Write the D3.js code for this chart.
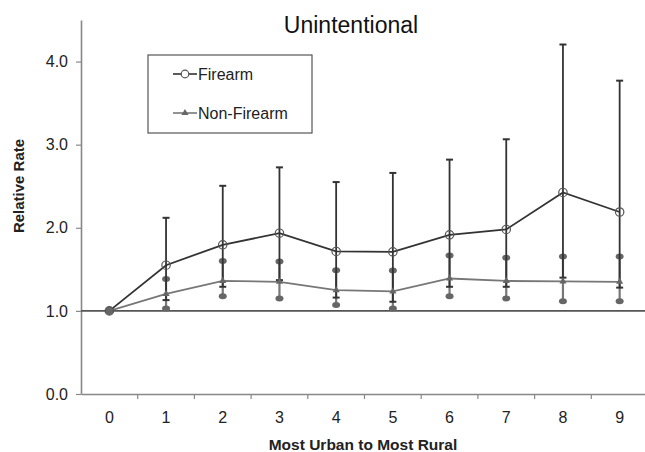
<!DOCTYPE html>
<html>
<head>
<meta charset="utf-8">
<script src="https://cdn.jsdelivr.net/npm/d3@7"></script>
<style>
  body { margin: 0; background: #fff; }
  text { font-family: "Liberation Sans", Arial, sans-serif; }
</style>
</head>
<body>
<script>
// chart data
const categories = ['0', '1', '2', '3', '4', '5', '6', '7', '8', '9'];
const firearm = [1.0, 1.55, 1.795, 1.935, 1.715, 1.71, 1.915, 1.98, 2.425, 2.19];
const firearmLow = [null, 1.13, 1.29, 1.37, 1.16, 1.11, 1.29, 1.29, 1.40, 1.28];
const firearmHigh = [null, 2.12, 2.505, 2.727, 2.55, 2.66, 2.82, 3.065, 4.205, 3.77];
const nonFirearm = [1.0, 1.205, 1.36, 1.35, 1.25, 1.235, 1.39, 1.36, 1.355, 1.35];
const nonFirearmLow = [null, 1.03, 1.175, 1.15, 1.07, 1.03, 1.175, 1.15, 1.115, 1.115];
const nonFirearmHigh = [null, 1.385, 1.60, 1.595, 1.49, 1.485, 1.665, 1.64, 1.655, 1.655];
const yTicks = [0, 1, 2, 3, 4];
const refValue = 1.0;

const W = 645;
const H = 452;
const margin = {
  top: 20,
  bottom: 58,
  left: 81,
  right: -3,
};
const width = W - margin.left - margin.right;
const height = H - margin.top - margin.bottom;

const svg = d3.select('body').append('svg')
  .attr('width', W)
  .attr('height', H);

// title
svg.append('text')
  .attr('x', 351)
  .attr('y', 33)
  .attr('text-anchor', 'middle')
  .style('font-size', '23px')
  .style('fill', '#111')
  .text('Unintentional');

const g = svg.append('g')
  .attr('transform', `translate(${margin.left},${margin.top})`);

// band scale for the rurality levels, linear for the relative rate
const xscale = d3.scaleBand().domain(categories).range([0, width]);
const yscale = d3.scaleLinear().domain([0, 4.5]).range([height, 0]);
const cx = i => xscale(categories[i]) + xscale.bandwidth() / 2;

// y axis
const yAxis = d3.axisLeft(yscale)
  .tickValues(yTicks)
  .tickFormat(d3.format('.1f'))
  .tickSize(5)
  .tickSizeOuter(0)
  .tickPadding(8);
const gy = g.append('g').call(yAxis);
gy.select('.domain').attr('stroke', '#888').attr('stroke-width', 1.6);
gy.selectAll('.tick line').attr('stroke', '#888').attr('stroke-width', 1.2);
gy.selectAll('.tick text')
  .style('font-size', '16px')
  .style('font-family', '"Liberation Sans", Arial, sans-serif')
  .style('fill', '#222');

// x axis, labels centered in bands, tick marks on band boundaries
const xAxis = d3.axisBottom(xscale).tickSize(0).tickSizeOuter(0).tickPadding(18);
const gx = g.append('g').attr('transform', `translate(0,${height})`).call(xAxis);
gx.select('.domain').attr('stroke', '#888').attr('stroke-width', 1.6);
gx.selectAll('.tick text')
  .style('font-size', '16px')
  .style('font-family', '"Liberation Sans", Arial, sans-serif')
  .style('fill', '#222');
gx.selectAll('.bound')
  .data(d3.range(1, categories.length))
  .enter().append('line')
  .attr('x1', i => i * xscale.step())
  .attr('x2', i => i * xscale.step())
  .attr('y1', 0)
  .attr('y2', 5)
  .attr('stroke', '#888')
  .attr('stroke-width', 1.2);

// axis titles
svg.append('text')
  .attr('transform', `translate(24,186) rotate(-90)`)
  .attr('text-anchor', 'middle')
  .style('font-size', '15px')
  .style('font-weight', 'bold')
  .style('fill', '#222')
  .text('Relative Rate');
svg.append('text')
  .attr('x', 363)
  .attr('y', 450)
  .attr('text-anchor', 'middle')
  .style('font-size', '15.5px')
  .style('font-weight', 'bold')
  .style('fill', '#222')
  .text('Most Urban to Most Rural');

// reference line at 1.0
g.append('line')
  .attr('x1', 0)
  .attr('x2', width)
  .attr('y1', yscale(refValue))
  .attr('y2', yscale(refValue))
  .attr('stroke', '#555')
  .attr('stroke-width', 1.6);

const idx = d3.range(1, categories.length);

// non-firearm error bars (grey with dot ends)
g.selectAll('.nfbar').data(idx).enter().append('line')
  .attr('x1', cx).attr('x2', cx)
  .attr('y1', i => yscale(nonFirearmLow[i]))
  .attr('y2', i => yscale(nonFirearmHigh[i]))
  .attr('stroke', '#777')
  .attr('stroke-width', 2.2);
[nonFirearmLow, nonFirearmHigh].forEach((arr) => {
  g.selectAll(null).data(idx).enter().append('ellipse')
    .attr('cx', cx)
    .attr('cy', i => yscale(arr[i]))
    .attr('rx', 4)
    .attr('ry', 3)
    .attr('fill', '#666');
});

// firearm error bars (dark with caps)
g.selectAll('.fbar').data(idx).enter().append('line')
  .attr('x1', cx).attr('x2', cx)
  .attr('y1', i => yscale(firearmLow[i]))
  .attr('y2', i => yscale(firearmHigh[i]))
  .attr('stroke', '#333')
  .attr('stroke-width', 1.8);
[firearmLow, firearmHigh].forEach((arr) => {
  g.selectAll(null).data(idx).enter().append('line')
    .attr('x1', i => cx(i) - 3.5)
    .attr('x2', i => cx(i) + 3.5)
    .attr('y1', i => yscale(arr[i]))
    .attr('y2', i => yscale(arr[i]))
    .attr('stroke', '#333')
    .attr('stroke-width', 2);
});

// series lines
const line = d3.line().x((d, i) => cx(i)).y(d => yscale(d));
g.append('path').datum(nonFirearm)
  .attr('d', line)
  .attr('fill', 'none')
  .attr('stroke', '#777')
  .attr('stroke-width', 1.8);
g.append('path').datum(firearm)
  .attr('d', line)
  .attr('fill', 'none')
  .attr('stroke', '#333')
  .attr('stroke-width', 1.8);

// markers
const tri = d3.symbol().type(d3.symbolTriangle).size(22);
g.selectAll('.nfpt').data(nonFirearm).enter().append('path')
  .attr('d', tri)
  .attr('transform', (d, i) => `translate(${cx(i)},${yscale(d)})`)
  .attr('fill', '#666');
g.selectAll('.fpt').data(firearm).enter().append('circle')
  .attr('cx', (d, i) => cx(i))
  .attr('cy', d => yscale(d))
  .attr('r', 4.2)
  .attr('fill', (d, i) => (i === 0 ? '#666' : 'none'))
  .attr('stroke', '#555')
  .attr('stroke-width', 1.2);

// legend
const legend = svg.append('g');
legend.append('rect')
  .attr('x', 148)
  .attr('y', 55)
  .attr('width', 164)
  .attr('height', 78)
  .attr('fill', '#fff')
  .attr('stroke', '#555')
  .attr('stroke-width', 1.2);
const items = [
  { name: 'Firearm', y: 74, stroke: '#333' },
  { name: 'Non-Firearm', y: 113, stroke: '#777' },
];
items.forEach((it, k) => {
  legend.append('line')
    .attr('x1', 173).attr('x2', 197)
    .attr('y1', it.y).attr('y2', it.y)
    .attr('stroke', it.stroke)
    .attr('stroke-width', 1.6);
  if (k === 0) {
    legend.append('circle')
      .attr('cx', 185).attr('cy', it.y).attr('r', 3.8)
      .attr('fill', '#fff').attr('stroke', '#555').attr('stroke-width', 1.2);
  } else {
    legend.append('path')
      .attr('d', tri)
      .attr('transform', `translate(185,${it.y})`)
      .attr('fill', '#666');
  }
  legend.append('text')
    .attr('x', 198)
    .attr('y', it.y + 6)
    .style('font-size', '16px')
    .style('fill', '#222')
    .text(it.name);
});
</script>
</body>
</html>
